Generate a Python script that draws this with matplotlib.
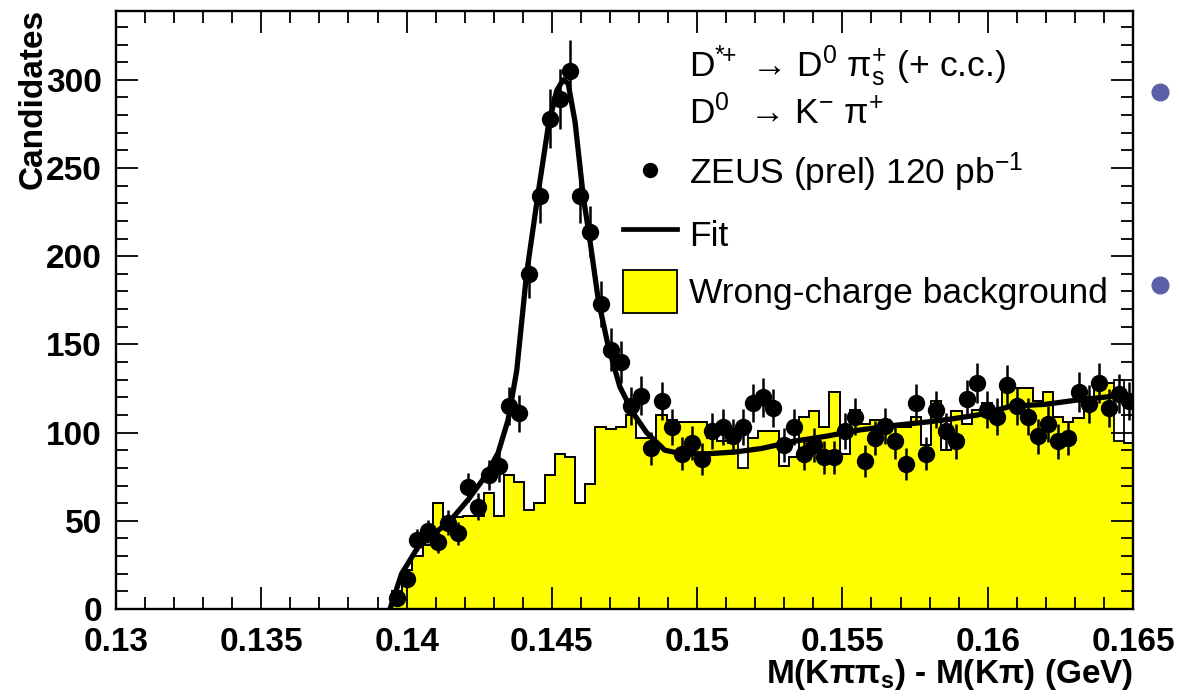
import numpy as np
import matplotlib
matplotlib.use('Agg')
import matplotlib.pyplot as plt
from matplotlib.ticker import MultipleLocator, FuncFormatter
from matplotlib.patches import Rectangle
from matplotlib.lines import Line2D

plt.rcParams['mathtext.fontset'] = 'custom'
plt.rcParams['mathtext.rm'] = 'Liberation Sans'
plt.rcParams['mathtext.it'] = 'Liberation Sans:italic'
plt.rcParams['mathtext.bf'] = 'Liberation Sans:bold'

# ---------------------------------------------------------------
# binning of the delta-M histograms (GeV)
# ---------------------------------------------------------------
bin_lo = 0.1395
bin_w = 0.00035
n_bins = 73
edges = bin_lo + bin_w * np.arange(n_bins + 1)
centres = 0.5 * (edges[:-1] + edges[1:])

# ZEUS data, candidates per bin
counts = np.array([
    6, 17, 39, 44, 38, 49, 43, 69, 58, 76,
    81, 115, 111, 190, 234, 278, 289, 305, 234, 214,
    173, 147, 140, 115, 121, 91, 118, 103, 88, 94,
    85, 101, 103, 98, 103, 117, 120, 114, 93, 103,
    88, 93, 86, 86, 101, 109, 84, 97, 104, 95,
    82, 117, 88, 113, 101, 95, 119, 128, 113, 109,
    127, 115, 109, 98, 105, 95, 97, 123, 116, 128,
    114, 122, 118])

# wrong-charge background (filled) and its outline
bkg_fill = np.array([
    10, 22, 30, 36, 60, 52, 52, 53, 53, 66,
    53, 76, 72, 56, 60, 76, 88, 86, 60, 71,
    103, 102, 103, 110, 97, 97, 110, 107, 106, 106,
    106, 97, 95, 94, 80, 97, 101, 101, 81, 86,
    109, 112, 103, 123, 88, 113, 105, 107, 107, 103,
    103, 109, 93, 118, 90, 112, 105, 113, 117, 113,
    127, 125, 125, 118, 123, 109, 106, 108, 115, 130,
    128, 95, 94])
bkg_line = bkg_fill.copy()
bkg_line[34] = 99
bkg_line[71] = 130

# fit curve
fit_x = [0.13943, 0.13983, 0.14039, 0.14098, 0.14155, 0.14212, 0.14270, 0.14315,
         0.14349, 0.14379, 0.14413, 0.14453, 0.14488, 0.14517, 0.14539, 0.14556,
         0.14580, 0.14608, 0.14631, 0.14660, 0.14694, 0.14734, 0.14780, 0.14826,
         0.14889, 0.14947, 0.15037, 0.15130, 0.15222, 0.15330, 0.15446, 0.15560,
         0.15674, 0.15790, 0.15870, 0.15966, 0.16082, 0.16197, 0.16310, 0.16426,
         0.16500]
fit_y = [0, 20, 35, 43, 51, 62, 75, 88.5,
         107, 135, 190, 236, 274, 294, 300, 298,
         276, 234, 209, 175, 149, 126, 111, 100,
         90, 88, 88, 89, 91, 95, 98, 101.5,
         104, 106, 107.6, 110, 115, 116, 118.5, 120.5,
         121]

W, H = 1180, 696
FONT = ['Liberation Sans', 'DejaVu Sans']


def fpos(x, y):
    # pixel position -> figure fraction
    return x / W, 1 - y / H


fig = plt.figure(figsize=(W / 100, H / 100), dpi=100)
ax = fig.add_axes([116 / W, 1 - 609 / H, 1017 / W, 598 / H])

ax.stairs(bkg_fill, edges, fill=True, color='#ffff00', zorder=1)
ax.stairs(bkg_fill, edges, color='black', lw=1.3, zorder=2)
ax.stairs(bkg_line, edges, color='black', lw=1.3, zorder=2)
ax.plot(fit_x, fit_y, color='black', lw=3.8, zorder=3, solid_capstyle='round',
        solid_joinstyle='round')
ax.errorbar(centres, counts, yerr=np.sqrt(counts), fmt='o', color='black',
            ms=11.5, elinewidth=1.8, capsize=0, zorder=4)

ax.set_xlim(0.13, 0.165)
ax.set_ylim(0, 339)
ax.xaxis.set_major_locator(MultipleLocator(0.005))
ax.xaxis.set_minor_locator(MultipleLocator(0.001))
ax.yaxis.set_major_locator(MultipleLocator(50))
ax.yaxis.set_minor_locator(MultipleLocator(10))
ax.xaxis.set_major_formatter(FuncFormatter(lambda v, p: f'{v:g}'))
ax.yaxis.set_major_formatter(FuncFormatter(lambda v, p: f'{v:g}'))
ax.tick_params(which='both', direction='in', top=True, right=True, width=1.3)
ax.tick_params(which='major', length=16)
ax.tick_params(which='minor', length=8.5)
ax.tick_params(axis='x', pad=13)
ax.tick_params(axis='y', pad=10)
for lab in ax.get_xticklabels() + ax.get_yticklabels():
    lab.set_fontfamily(FONT)
    lab.set_fontweight('bold')
    lab.set_fontsize(24)
for sp in ax.spines.values():
    sp.set_linewidth(1.7)

# axis titles
fig.text(*fpos(33, 9), 'Candidates', rotation=90, ha='center', va='top',
         fontsize=24, fontweight='bold', family=FONT)
fig.text(*fpos(1133, 675), r'M(K$\mathbf{\pi\pi_{s}}$) - M(K$\mathbf{\pi}$) (GeV)',
         ha='right', va='center', fontsize=24, fontweight='bold', family=FONT)

# legend, drawn by hand
leg_font = dict(fontsize=25.5, family=FONT, va='baseline', ha='left')
fig.text(*fpos(689, 76), r'D$^{*\!\!+}$ → D$^{0}$ $\mathrm{\pi_{s}^{+}}$ (+ c.c.)', **leg_font)
fig.text(*fpos(689, 124), r'D$^{0}$  → K$^{-}$ $\mathrm{\pi^{+}}$', **leg_font)
fig.text(*fpos(689, 184), r'ZEUS (prel) 120 pb$^{-1}$', **leg_font)
fig.text(*fpos(689, 246), 'Fit', **leg_font)
fig.text(*fpos(689, 303), 'Wrong-charge background', **leg_font)

fig.add_artist(Line2D([fpos(650, 0)[0]], [fpos(0, 170)[1]], marker='o', ms=10,
                      color='black', transform=fig.transFigure))
fig.add_artist(Line2D([fpos(623, 0)[0], fpos(677, 0)[0]], [fpos(0, 229)[1]] * 2,
                      lw=3.4, color='black', transform=fig.transFigure))
bx0, by0 = fpos(623, 313)
bx1, by1 = fpos(677, 270)
fig.add_artist(Rectangle((bx0, by0), bx1 - bx0, by1 - by0, facecolor='#ffff00',
                         edgecolor='black', lw=1.3, transform=fig.transFigure))

# slide bullets at the right edge
for yb in (92, 285):
    fig.add_artist(Line2D([fpos(1160, 0)[0]], [fpos(0, yb)[1]], marker='o', ms=12,
                          color='#5b5fa5', transform=fig.transFigure))

fig.savefig('out.png', dpi=100)
